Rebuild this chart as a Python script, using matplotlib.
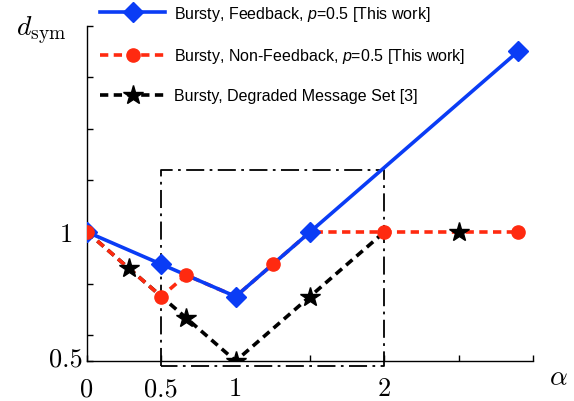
import matplotlib
matplotlib.use('Agg')
import matplotlib.pyplot as plt
from matplotlib.lines import Line2D
from matplotlib.transforms import ScaledTranslation

plt.rcParams['font.family'] = ['Liberation Sans', 'DejaVu Sans']
plt.rcParams['mathtext.fontset'] = 'custom'
plt.rcParams['mathtext.rm'] = 'Liberation Sans'
plt.rcParams['mathtext.it'] = 'Liberation Sans:italic'

########## DATA ################################################################

# Bursty, Feedback
fb_x = [0, 0.5, 1, 1.5, 2.9]
fb_y = [1, 0.875, 0.75, 1, 1.7]

# Bursty, Non-Feedback (marker only on some corners)
nfb_x = [0, 0.5, 0.667, 1, 1.25, 1.5, 2, 2.9]
nfb_y = [1, 0.75, 0.833, 0.75, 0.875, 1, 1, 1]
nfb_marked = [0, 1, 2, 4, 6, 7]

# Bursty, Degraded Message Set [3]
dms_x = [0, 0.28, 0.667, 1, 1.5, 2]
dms_y = [1, 0.86, 0.667, 0.5, 0.75, 1]
dms_star_x = [0.28, 0.667, 1, 1.5, 2.5]
dms_star_y = [0.86, 0.667, 0.5, 0.75, 1]

# dash-dot box
box_x = [0.5, 0.5, 2, 2, 0.5]
box_y = [0.48, 1.24, 1.24, 0.48, 0.48]

xticks = [0, 0.5, 1, 1.5, 2, 2.5, 3]
xticklabels = ['0', '0.5', '1', '', '2', '', '']
yticks = [0.5, 0.6, 0.8, 1, 1.2, 1.4, 1.6, 1.8]
yticklabels = ['0.5', '', '', '1', '', '', '', '']

labels = ['Bursty, Feedback, $p$=0.5 [This work]',
          'Bursty, Non-Feedback, $p$=0.5 [This work]',
          'Bursty, Degraded Message Set [3]']

################################################################################

blue = '#0a3cf5'
red = '#ff2a10'
dash = (0, (2.3, 1.5))

fig = plt.figure(figsize=(5.74, 4.02), dpi=100)
ax = fig.add_axes([87/574, 1 - 362/402, 446/574, 335.4/402])

ax.plot(box_x, box_y, color='black', linewidth=1.3,
        linestyle=(0, (10, 3, 1.5, 3)), clip_on=False, zorder=1)

ax.plot(dms_x, dms_y, color='black', linewidth=2.6, linestyle=dash, zorder=2)
ax.plot(nfb_x, nfb_y, color=red, linewidth=2.6, linestyle=dash, zorder=3)
ax.plot(fb_x, fb_y, color=blue, linewidth=2.6, marker='D', markersize=10,
        zorder=4)
ax.plot([nfb_x[i] for i in nfb_marked], [nfb_y[i] for i in nfb_marked],
        linestyle='none', marker='o', markersize=9.5, color=red, zorder=5)
ax.plot(dms_star_x, dms_star_y, linestyle='none', marker='*', markersize=14.5,
        color='black', zorder=6)

ax.set_xlim(0, 3)
ax.set_ylim(0.5, 1.8)
ax.spines['top'].set_visible(False)
ax.spines['right'].set_visible(False)
ax.spines['left'].set_linewidth(1.0)
ax.spines['bottom'].set_linewidth(1.0)

ax.set_xticks(xticks)
ax.set_xticklabels(xticklabels, fontfamily='cmr10', fontsize=19)
ax.set_yticks(yticks)
ax.set_yticklabels(yticklabels, fontfamily='cmr10', fontsize=19)
ax.tick_params(axis='x', direction='in', length=4, width=1, pad=11)
ax.tick_params(axis='y', direction='in', length=4, width=1, pad=10)

# the 0.5 label sits nearer the axis and a bit higher
lbl = ax.get_yticklabels()[0]
lbl.set_transform(lbl.get_transform() + ScaledTranslation(10/100, 5/100, fig.dpi_scale_trans))

ax.text(-0.103, 0.99, r'$d_{\rm sym}$', transform=ax.transAxes, fontsize=20,
        ha='center', va='center', math_fontfamily='cm')
ax.text(1.056, -0.048, r'$\alpha$', transform=ax.transAxes, fontsize=20,
        ha='center', va='center', math_fontfamily='cm')

handles = [
    Line2D([], [], color=blue, linewidth=2.6, marker='D', markersize=10),
    Line2D([], [], color=red, linewidth=2.6, linestyle=dash, marker='o', markersize=9.5),
    Line2D([], [], color='black', linewidth=2.6, linestyle=dash, marker='*', markersize=14.5),
]
leg = fig.legend(handles, labels, loc='upper left',
                 bbox_to_anchor=(100/574, 1 - 5/402), frameon=False,
                 fontsize=11.5, handlelength=4.1, handletextpad=0.55,
                 labelspacing=1.45, borderpad=0, borderaxespad=0)

plt.savefig('out.png', dpi=100)
